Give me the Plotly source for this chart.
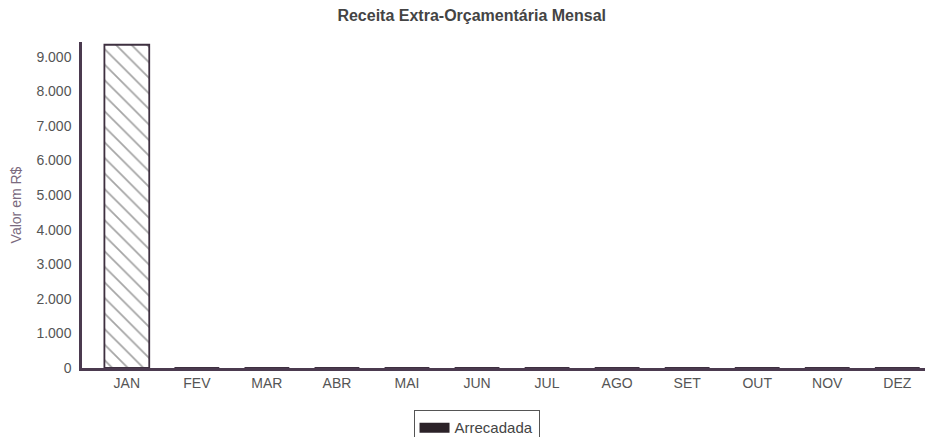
import plotly.graph_objects as go

meses = ["JAN", "FEV", "MAR", "ABR", "MAI", "JUN", "JUL", "AGO", "SET", "OUT", "NOV", "DEZ"]
arrecadada = [9350, 0, 0, 0, 0, 0, 0, 0, 0, 0, 0, 0]
y_ticks = [0, 1000, 2000, 3000, 4000, 5000, 6000, 7000, 8000, 9000]
y_labels = ["0", "1.000", "2.000", "3.000", "4.000", "5.000", "6.000", "7.000", "8.000", "9.000"]

fig = go.Figure()
fig.add_trace(go.Bar(
    x=meses, y=arrecadada, width=0.64, showlegend=False,
    marker=dict(color="white", line=dict(color="#3e3040", width=1.8),
                pattern=dict(shape="\\", fgcolor="#4a4a4a", bgcolor="white", size=11, solidity=0.16)),
))
fig.add_trace(go.Scatter(
    x=[meses[0]], y=[None], name="Arrecadada", mode="lines",
    line=dict(color="#2b2228", width=11),
))
fig.update_layout(
    width=933, height=470,
    paper_bgcolor="white", plot_bgcolor="white",
    margin=dict(l=74, r=8, t=34, b=110),
    title=dict(text="<b>Receita Extra-Orçamentária Mensal</b>", x=0.497, xanchor="center",
               y=1, yanchor="top", pad=dict(t=2, b=0),
               font=dict(family="Arial, Liberation Sans", size=16, color="#444")),
    font=dict(family="Arial, Liberation Sans", size=14, color="#555"),
    bargap=0.36, barmode="overlay",
    xaxis=dict(range=[-0.64, 11.51], showline=True, linecolor="#4b3a4f", linewidth=2.5,
               showgrid=False, ticks="", tickfont=dict(size=14, color="#555"), automargin=False),
    yaxis=dict(range=[0, 9430], showline=True, linecolor="#4b3a4f", linewidth=2.5,
               showgrid=False, zeroline=False, tickvals=y_ticks, ticktext=y_labels,
               ticks="", tickfont=dict(size=14, color="#555"), automargin=False, ticklabelstandoff=5,
               title=dict(text="Valor em R$", font=dict(size=14, color="#7a6a7e"), standoff=14)),
    legend=dict(orientation="h", x=0.4636, xanchor="center", y=-0.13, yanchor="top",
                bordercolor="#555", borderwidth=1, font=dict(size=15, color="#444"),
                itemwidth=30, tracegroupgap=0),
)
fig.write_html("out.html")
